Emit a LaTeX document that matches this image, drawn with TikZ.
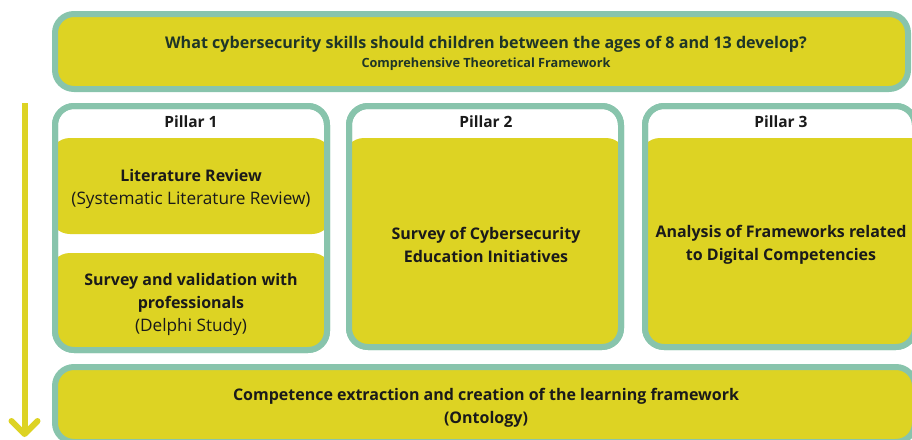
\documentclass[tikz,border=0pt]{standalone}
\usepackage{fontspec}
\setmainfont{Open Sans}
\definecolor{cyel}{HTML}{DDD323}
\definecolor{cteal}{HTML}{88C4AC}
\definecolor{ctitle}{HTML}{1F3528}
\definecolor{ctext}{HTML}{1A1A1A}
\newcommand{\regtext}[1]{{\fontsize{17.2}{23}\selectfont #1}}
\tikzset{
  frame/.style={draw=cteal, line width=6pt, rounded corners=19pt, rectangle, inner sep=0pt, outer sep=0pt},
  yframe/.style={frame, fill=cyel},
  wframe/.style={frame, fill=white},
  ytile/.style={fill=cyel, rounded corners=20pt},
  lbl/.style={align=center, text=ctext, font=\bfseries\fontsize{16}{23}\selectfont, inner sep=0pt},
  head/.style={text=ctext, font=\bfseries\fontsize{15.5}{20}\selectfont, inner sep=0pt},
  flow/.style={draw=cyel, line width=6pt},
  flowhead/.style={draw=cyel, line width=6pt, line cap=round, line join=round},
}
\begin{document}
\begin{tikzpicture}[x=1pt,y=-1pt]
\useasboundingbox (0,0) rectangle (912,439);
\begin{scope}
\clip (0,0) rectangle (912,439);
% top box
\node[yframe, minimum width=853pt, minimum height=75pt] (top) at (481.5,51.5) {};
% pillars
\node[wframe, minimum width=272pt, minimum height=244pt] (p1) at (191,228) {};
\node[wframe, minimum width=272pt, minimum height=241pt] (p2) at (485,226.5) {};
\node[wframe, minimum width=270pt, minimum height=241pt] (p3) at (780,226.5) {};
% yellow tiles
\begin{scope}
\clip[rounded corners=19pt] (p1.south west) rectangle (p1.north east);
\fill[ytile] (50,138) rectangle (332,234);
\fill[ytile] (50,253) rectangle (332,380);
\end{scope}
\begin{scope}
\clip[rounded corners=19pt] (p2.south west) rectangle (p2.north east);
\fill[ytile] (344,138) rectangle (626,380);
\end{scope}
\begin{scope}
\clip[rounded corners=19pt] (p3.south west) rectangle (p3.north east);
\fill[ytile] (640,138) rectangle (930,380);
\end{scope}
\node[frame, minimum width=272pt, minimum height=244pt] at (p1) {};
\node[frame, minimum width=272pt, minimum height=241pt] at (p2) {};
\node[frame, minimum width=270pt, minimum height=241pt] at (p3) {};
% bottom box
\node[yframe, minimum width=860pt, minimum height=75pt] (bot) at (485,404.5) {};
\end{scope}
% texts
\node[text=ctitle, font=\bfseries\fontsize{16.1}{20}\selectfont, inner sep=0pt] (q) at (486,44.5) {What cybersecurity skills should children between the ages of 8 and 13 develop?};
\node[text=ctitle, font=\bfseries\fontsize{12.7}{15}\selectfont, inner sep=0pt] (qs) at (486,64) {Comprehensive Theoretical Framework};
\node[head] (h1) at (191,122) {Pillar 1};
\node[head] (h2) at (486,122) {Pillar 2};
\node[head] (h3) at (781,122) {Pillar 3};
\node[lbl] (lr) at (191,189) {Literature Review\\\regtext{\mdseries(Systematic Literature Review)}};
\node[lbl] (sv) at (191,304.5) {Survey and validation with\\professionals\\\regtext{\mdseries(Delphi Study)}};
\node[lbl] (ce) at (486,245) {Survey of Cybersecurity\\Education Initiatives};
\node[lbl] (fw) at (781,245) {Analysis of Frameworks related\\to Digital Competencies};
\node[lbl] (on) at (486,407.5) {Competence extraction and creation of the learning framework\\(Ontology)};
% arrow
\coordinate (aS) at (24.5,103);
\coordinate (aE) at (24.5,434);
\coordinate (aL) at (11.5,421);
\coordinate (aR) at (37.5,421);
\draw[flow] (aS) -- (aE);
\draw[flowhead] (aL) -- (aE) -- (aR);
\end{tikzpicture}
\end{document}
